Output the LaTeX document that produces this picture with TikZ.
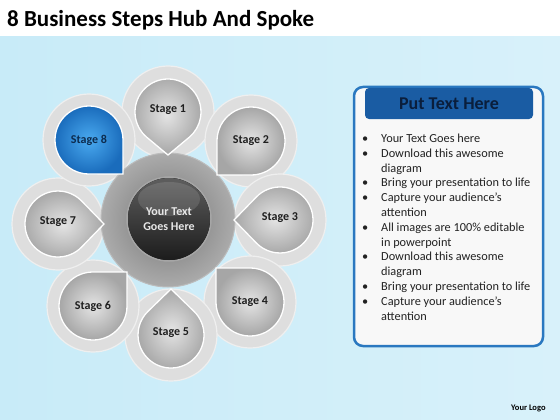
\documentclass[tikz,border=0pt]{standalone}
\usepackage{fontspec}
\setmainfont{Carlito}
\usetikzlibrary{calc}
\definecolor{bgL}{HTML}{C8EBF8}
\definecolor{bgM}{HTML}{EFF9FD}
\definecolor{bgR}{HTML}{D8F1FA}
\definecolor{haloC}{HTML}{DEDEDE}
\definecolor{haloE}{HTML}{EFEFEF}
\definecolor{pinIn}{HTML}{E4E4E4}
\definecolor{pinOut}{HTML}{A6A6A6}
\definecolor{blueIn}{HTML}{4AAAF0}
\definecolor{blueOut}{HTML}{1A6CBC}
\definecolor{labelC}{HTML}{1E1E1E}
\definecolor{blueLabel}{HTML}{0C2B4E}
\definecolor{ringIn}{HTML}{747474}
\definecolor{ringOut}{HTML}{ABABAB}
\definecolor{coreTop}{HTML}{5E5E5E}
\definecolor{coreBot}{HTML}{1C1C1C}
\definecolor{hubText}{HTML}{E8E8E8}
\definecolor{panelBlue}{HTML}{2A78C0}
\definecolor{panelFill}{HTML}{F8F8F8}
\definecolor{headDark}{HTML}{1A5CA3}
\definecolor{headLight}{HTML}{5DB4F0}
\definecolor{headText}{HTML}{0A1E3C}
\definecolor{bodyText}{HTML}{222222}
\newcommand{\oddpin}[7]{%
  \pgfmathsetmacro{\pinang}{acos(33/#5)}%
  \shadedraw[#6] ($(#2,#3)+(#4:#5)$) -- ($(#2,#3)+({#4+\pinang}:33)$)
     arc[start angle={#4+\pinang}, end angle={#4+360-\pinang}, radius=33] -- cycle;
  \node[stagelabel] (#1) at (#2,#3-2) {#7};}
\newcommand{\evenpin}[7]{%
  \shadedraw[#5] ($(#2,#3)+({#4+45}:34)$)
     arc[start angle={#4+45}, end angle={#4+315}, radius=34] -- ($(#2,#3)+(#4:48.08)$) -- cycle;
  \node[stagelabel,#7] (#1) at (#2,#3) {#6};}
\begin{document}
\begin{tikzpicture}[x=1pt,y=-1pt,
  stagelabel/.style={font=\fontsize{12}{14}\selectfont\bfseries, text=labelC},
  halo/.style={fill=haloC, draw=haloE, line width=1.2pt},
  greypin/.style={inner color=pinIn, outer color=pinOut, draw=white, line width=1.3pt},
  bluepin/.style={inner color=blueIn, outer color=blueOut, draw=white, line width=1.3pt},
  bodyline/.style={anchor=base west, inner sep=0pt, font=\fontsize{12.3}{14}\selectfont, text=bodyText}]
\useasboundingbox (0,0) rectangle (560,420);
% background
\fill[white] (0,0) rectangle (560,420);
\shade[left color=bgL, middle color=bgM, right color=bgR] (0,37) rectangle (560,420);
% title
\node[anchor=base west, inner sep=0pt, font=\fontsize{23}{27}\selectfont\bfseries] (title) at (7,27) {8 Business Steps Hub And Spoke};
% halos
\foreach \hx/\hy [count=\i] in {168/112, 251/141, 280/220, 250/302, 171/335, 93/306, 58/224, 89/140}
  \draw[halo] (\hx,\hy) circle[radius=46];
% hub
\shadedraw[inner color=ringIn, outer color=ringOut, draw=ringOut!80!white, line width=1pt] (168,220) circle[radius=67];
\draw[fill=coreBot, draw=gray!70, line width=1.5pt] (169,219) circle[radius=42];
\shade[top color=coreTop, bottom color=coreBot] (169,219) circle[radius=41];
\fill[white, opacity=0.12] (169,199) ellipse[x radius=31, y radius=17];
\node[align=center, font=\fontsize{12}{15}\selectfont\bfseries, text=hubText] (hubtext) at (169,219) {Your Text\\Goes Here};
% pins
\oddpin{s1}{168}{112}{90}{43}{greypin}{Stage 1}
\evenpin{s2}{251}{141}{135}{greypin}{Stage 2}{}
\oddpin{s3}{280}{220}{180}{46}{greypin}{Stage 3}
\evenpin{s4}{250}{302}{225}{greypin}{Stage 4}{}
\oddpin{s5}{171}{335}{270}{46}{greypin}{Stage 5}
\evenpin{s6}{93}{306}{315}{greypin}{Stage 6}{}
\oddpin{s7}{58}{224}{0}{46}{greypin}{Stage 7}
\evenpin{s8}{89}{140}{45}{bluepin}{Stage 8}{text=blueLabel}
% panel
\draw[rounded corners=9pt, line width=2.5pt, draw=panelBlue, fill=panelFill] (354,87) rectangle (543,346);
\shade[rounded corners=4pt, left color=headDark, middle color=headLight, right color=headDark] (365,88) rectangle (533,119);
\node[font=\fontsize{18}{21}\selectfont\bfseries, text=headText] (head) at (449,104) {Put Text Here};
\foreach \b/\t [count=\i from 0] in {1/Your Text Goes here, 1/Download this awesome, 0/diagram, 1/Bring your presentation to life, 1/Capture your audience’s, 0/attention, 1/All images are 100\% editable, 0/in powerpoint, 1/Download this awesome, 0/diagram, 1/Bring your presentation to life, 1/Capture your audience’s, 0/attention}{
  \pgfmathsetmacro{\yy}{142.5+14.8*\i}
  \node[bodyline] (line\i) at (381,\yy) {\t};
  \ifnum\b=1 \node[bodyline] (bul\i) at (362,\yy) {\textbullet}; \fi
}
% logo
\node[anchor=base west, inner sep=0pt, font=\fontsize{8.5}{10}\selectfont\bfseries] (logo) at (511,410) {Your Logo};
\end{tikzpicture}
\end{document}
